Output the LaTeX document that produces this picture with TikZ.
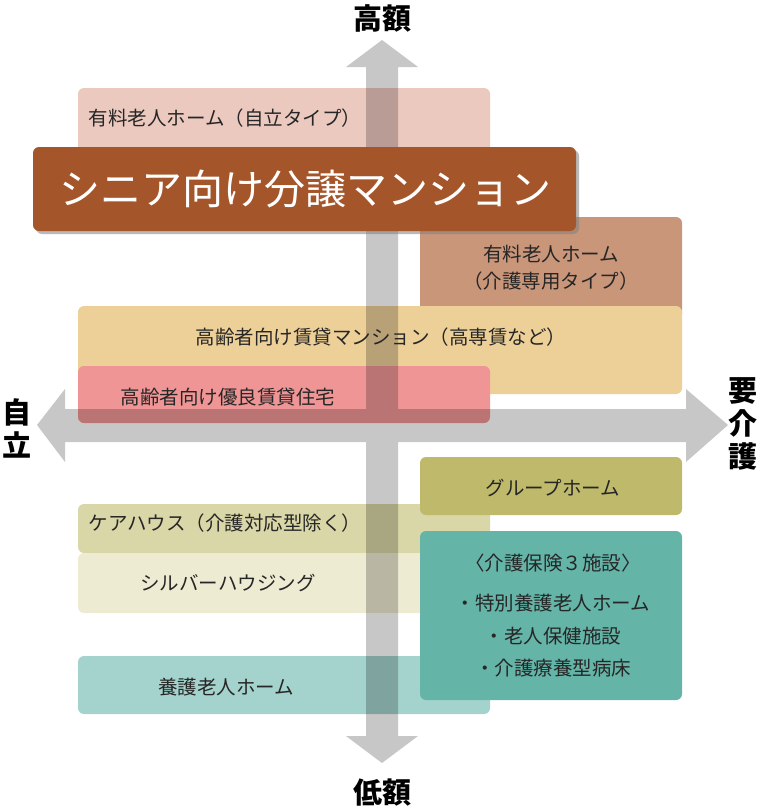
\documentclass[tikz,border=0pt]{standalone}
\usepackage{fontspec}
\newfontfamily\jpfont{Noto Sans CJK JP}
\usepackage{tikz}
\usetikzlibrary{shadows}
\usetikzlibrary{calc}
\definecolor{jiritsuPink}{HTML}{ECC9BF}
\definecolor{seniorBrown}{HTML}{A5552A}
\definecolor{senyouTan}{HTML}{C9967A}
\definecolor{chintaiOrange}{HTML}{EDCF98}
\definecolor{yuuryouPink}{HTML}{EF9595}
\definecolor{groupOlive}{HTML}{BFBA6B}
\definecolor{careKhaki}{HTML}{D9D6A7}
\definecolor{hokenTeal}{HTML}{64B4A8}
\definecolor{silverCream}{HTML}{EEEBD3}
\definecolor{yougoMint}{HTML}{A3D3CC}
\tikzstyle{axisarrow}=[fill=black, fill opacity=0.22]
\tikzstyle{boxlabel}=[font=\jpfont\fontsize{19.5}{27}\selectfont, text=black!85, inner sep=0pt, align=center]
\tikzstyle{titlelabel}=[font=\jpfont\fontsize{41}{41}\selectfont, text=white, inner sep=0pt]
\tikzstyle{axislabel}=[font=\jpfont\bfseries\fontsize{29}{33}\selectfont, inner sep=0pt, align=center]
\newcommand{\roundBox}[3]{
	\fill[rounded corners=6pt, #1] #2 rectangle #3;
}

\begin{document}
\begin{tikzpicture}[x=1pt,y=-1pt]
	\useasboundingbox (0,0) rectangle (760,811);
	% category boxes
	\roundBox{jiritsuPink}{(78,88)}{(490,175)}
	\roundBox{senyouTan}{(420,217)}{(682,320)}
	\roundBox{chintaiOrange}{(78,306)}{(682,394)}
	\roundBox{yuuryouPink}{(78,366)}{(490,423)}
	\roundBox{careKhaki}{(78,504)}{(490,553)}
	\roundBox{groupOlive}{(420,457)}{(682,515)}
	\roundBox{silverCream}{(78,553)}{(490,613)}
	\roundBox{yougoMint}{(78,656)}{(490,714)}
	\roundBox{hokenTeal}{(420,531)}{(682,700)}
	% axes (one path, so the crossing is not darker)
	\fill[axisarrow] (382,40) -- (346,67) -- (366,67) -- (366,736) -- (346,736) -- (382,763)
		-- (418,736) -- (398,736) -- (398,67) -- (418,67) -- cycle
		(37,425) -- (65,462) -- (65,442) -- (686,442) -- (686,462) -- (728,425)
		-- (686,389) -- (686,409) -- (65,409) -- (65,389) -- cycle;
	% title box
	\fill[rounded corners=6pt, seniorBrown, drop shadow={shadow xshift=3pt, shadow yshift=-3pt, opacity=.55}] (33,147) rectangle (576,231);
	\node[titlelabel] (senior) at (305,189) {シニア向け分譲マンション};
	% labels
	\node[boxlabel] (jiritsu) at (225,118) {有料老人ホーム（自立タイプ）};
	\node[boxlabel] (senyou) at (551,268) {有料老人ホーム\\（介護専用タイプ）};
	\node[boxlabel] (chintai) at (381,337) {高齢者向け賃貸マンション（高専賃など）};
	\node[boxlabel] (yuuryou) at (228,397) {高齢者向け優良賃貸住宅};
	\node[boxlabel] (group) at (553,488) {グループホーム};
	\node[boxlabel] (carehouse) at (225,523) {ケアハウス（介護対応型除く）};
	\node[boxlabel] (silver) at (228,583) {シルバーハウジング};
	\node[boxlabel] (yougo) at (226,687) {養護老人ホーム};
	\node[boxlabel] (hoken) at (553,563) {〈介護保険３施設〉};
	\node[boxlabel, font=\jpfont\fontsize{19.5}{32.5}\selectfont] (shisetsu) at (553,636) {・特別養護老人ホーム\\・老人保健施設\\・介護療養型病床};
	% axis labels
	\node[axislabel] (kougaku) at (382,18) {高額};
	\node[axislabel] (teigaku) at (382,793) {低額};
	\node[axislabel] (jiritsuAxis) at (17,428) {自\\立};
	\node[axislabel] (youkaigo) at (743,424) {要\\介\\護};
\end{tikzpicture}
\end{document}
